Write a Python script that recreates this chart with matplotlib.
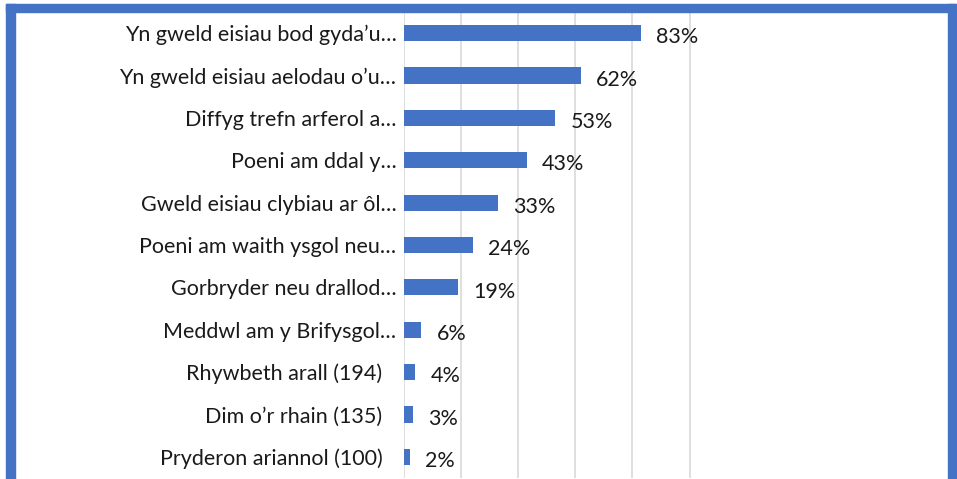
import matplotlib.pyplot as plt
import matplotlib.transforms as mtransforms
from matplotlib.patches import Rectangle

# categories (top to bottom) and percentages
labels = [
    "Yn gweld eisiau bod gyda\u2019u\u2026",
    "Yn gweld eisiau aelodau o\u2019u\u2026",
    "Diffyg trefn arferol a\u2026",
    "Poeni am ddal y\u2026",
    "Gweld eisiau clybiau ar \u00f4l\u2026",
    "Poeni am waith ysgol neu\u2026",
    "Gorbryder neu drallod\u2026",
    "Meddwl am y Brifysgol\u2026",
    "Rhywbeth arall (194)",
    "Dim o\u2019r rhain (135)",
    "Pryderon ariannol (100)",
]
values = [83, 62, 53, 43, 33, 24, 19, 6, 4, 3, 2]
grid_ticks = [0, 20, 40, 60, 80, 100]

blue = "#4472C4"
W, H = 957, 479

plt.rcParams['font.family'] = ['Lato', 'DejaVu Sans']

fig = plt.figure(figsize=(W / 100, H / 100), dpi=100)
ax = fig.add_axes([404 / W, 1 - 478 / H, (948 - 404) / W, (478 - 12) / H])

pos = list(range(len(values)))
ax.barh(pos, values, height=0.38, color=blue, zorder=3)
ax.set_ylim(len(values) - 0.5, -0.5)
ax.set_xlim(0, 190.5)
ax.set_yticks(pos)
ax.set_yticklabels(labels, fontsize=15.5, color="#1a1a1a")
ax.set_xticks(grid_ticks)
ax.tick_params(axis='x', bottom=False, labelbottom=False)
ax.tick_params(axis='y', left=False, pad=2)
ax.grid(axis='x', color="#D9D9D9", linewidth=1.2, zorder=0)
for s in ax.spines.values():
    s.set_visible(False)

# labels that were not cut short sit a little further left, as in Excel
for t in ax.get_yticklabels():
    if not t.get_text().endswith("\u2026"):
        t.set_transform(t.get_transform() +
                        mtransforms.ScaledTranslation(-14 / 100, 0, fig.dpi_scale_trans))

for i, v in enumerate(values):
    ax.annotate(f"{v}%", (v, i), xytext=(11, -3), textcoords='offset points',
                ha='left', va='center', fontsize=15.5, color="#1a1a1a")

# blue frame around the chart
fig.patches.append(Rectangle((6 / W, 0), 9 / W, 1 - 4 / H, transform=fig.transFigure,
                             color=blue, zorder=5))
fig.patches.append(Rectangle((6 / W, 1 - 12 / H), (956 - 6) / W, 8 / H,
                             transform=fig.transFigure, color=blue, zorder=5))
fig.patches.append(Rectangle((948 / W, 0), 8 / W, 1 - 4 / H, transform=fig.transFigure,
                             color=blue, zorder=5))

fig.savefig("out.png", dpi=100)
